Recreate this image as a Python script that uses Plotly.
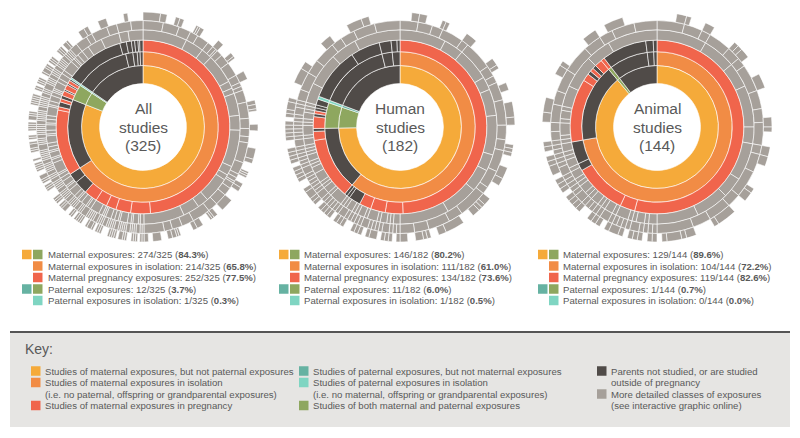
import math
import plotly.graph_objects as go

W, H = 800, 438

# ------------------------------------------------------------------ data
n_studies = [325, 182, 144]
center_lines = [["All", "studies", "(325)"],
                ["Human", "studies", "(182)"],
                ["Animal", "studies", "(144)"]]

# ---- All studies
all_l1_counts = [263, 11, 1, 50]
all_l1_class = ["mat", "both", "pat", "none"]
all_l2_counts = [214, 49, 11, 1, 38, 5, 3, 2, 2]
all_l2_class = ["iso", "none", "both", "patiso", "none", "none", "none", "none", "none"]
all_l3_counts = [158, 12, 9, 6, 7, 8, 8, 6, 40, 2, 3, 2, 2, 3, 1, 3, 1, 2, 1, 1, 36, 4, 3, 2, 2, 1, 2]
all_l3_class = ["preg", "preg", "preg", "preg", "preg", "preg", "none", "none",
                "preg", "preg", "none", "preg", "none",
                "preg", "none", "preg", "none", "preg", "none",
                "patiso",
                "none", "none", "none", "none", "none", "none", "none"]
# grey rings (negative = no segment)
all_r4 = [24, 10, 6, 16, 4, 3, 12, 8, 20, 5, 3, 14, 6, 9, 22,
          2, 1, 3, 1, 2, 4, 1, 2, 2, 3, 1, 1, 2, 5, 2, 1, 3, 2, 1, 2,
          4, 2, 1, 3, 2, 2, 1, 6, 2, 1, 3, 1, 2, 2, 4, 1, 2, 3, 1, 2,
          2, 5, 1, 2, 3, 2, 1, 1, 4, 2, 3, 2, 6, 2, 1, 2, 3, 4, 8, 10, 5, 8]
all_r5 = [10, 8, 6, 4, 6, 3, 2, 1, 3, 5, 7, 4, 2, 2, 6, 8, 5, 4, 3, 10, 6, 2, 2, 1, 3, 4, 6, 5, 9, 6, 5, 4, 10,
          1, 1, 2, 1, 1, 1, 2, 1, 1, 1, 1, 2, 1, 1, 1, 1, 2, 1, 1, 1,
          2, 1, 1, 1, 1, 3, 1, 1, 2, 1, 1, 1, 1, 2, 1, 1, 1, 1, 2, 1,
          1, 1, 1, 2, 1, 1, 2, 1, 1, 1, 1, 2, 1, 1, 1, 1, 1, 3, 1, 1,
          1, 2, 1, 1, 1, 1, 1, 2, 1, 1, 1, 1, 1, 2, 1, 1, 1, 1, 1, 2,
          1, 1, 3, 1, 1, 1, 2, 1, 1, 1, 2, 1, 1, 1, 1, 2, 1, 1, 1, 1,
          4, 6, 3, 8, 5, 7, 6]
all_r6 = [8, 3, -4, 2, 2, -6, 1, 1, 2, -8, 3, -5, 2, 1, -7, 4, -10, 2, 2, 1, -6, 3, -8, 5, 2, -4, 1, 1, 1, -3,
          2, 2, -5, 6, -3, 2, 1, 1, -4, 3, 2, -6, 1, 1, 2, 2, -3, 4, -2, 2,
          1, 1, -1, 1, 1, 1, -2, 1, 1, 2, -1, 1, 1, 1, 1, -3, 1, 1, 1, -1,
          1, 2, 1, -2, 1, 1, 1, 1, -1, 1, 1, -2, 2, 1, 1, -1, 1, 1, 1, -4,
          1, 1, 1, -1, 1, 1, 2, -2, 1, 1, 1, 1, -1, 1, -3, 1, 1, 2, 1, -1,
          1, 1, -2, 1, 1, 1, 1, -1, 2, 1, 1, -3, 1, 1, 1, 1, 1, -2, 1, 1,
          -1, 1, 1, 1, -2, 1, 2, 1, 1, -1, 1, 1, 1, -3, 1, 1, 1, -1, 2, 1,
          -6, 3, 2, -5, 4, -8, 2, -7]

# ---- Human studies
hum_l1_counts = [136, 10, 1, 35]
hum_l1_class = ["mat", "both", "pat", "none"]
hum_l2_counts = [111, 25, 10, 1, 28, 4, 3]
hum_l2_class = ["iso", "none", "both", "patiso", "none", "none", "none"]
hum_l3_counts = [90, 6, 5, 4, 4, 1, 1, 21, 3, 1, 4, 1, 1, 1, 1, 2, 1, 18, 10, 4, 2, 1]
hum_l3_class = ["preg", "preg", "preg", "preg", "none", "none", "none",
                "preg", "preg", "none",
                "preg", "none", "preg", "none", "none", "none",
                "patiso",
                "none", "none", "none", "none", "none"]
hum_r4 = [14, 6, 10, 4, 8, 12, 5, 7, 10, 15,
          2, 1, 1, 2, 1, 3, 1, 2, 1, 1, 2, 1, 1, 4, 1, 2, 1, 1, 3, 2,
          1, 1, 2, 1, 1, 1, 2, 1, 3, 1, 1, 2, 1, 1, 1, 6, 10, 8, 14]
hum_r5 = [5, 4, 3, 6, 2, 8, 3, 2, 5, 7, 4, 3, 6, 5, 2, 8, 4, 6, 4, 4,
          1, 1, 1, 2, 1, 1, 1, 1, 2, 1, 1, 1, 1, 1, 2, 1, 1, 1, 1, 1,
          1, 2, 1, 1, 1, 1, 1, 1, 2, 1, 1, 1, 1, 1, 1, 2, 1, 1, 1, 1,
          1, 1, 1, 2, 1, 1, 3, 5, 4, 6, 3, 4, 6, 7]
hum_r6 = [-3, 2, 2, -4, 1, 1, -5, 3, -6, 2, 1, -4, 2, -3, 4, 2, -5, 1, 1, 1, -3, 3, 2, -4, 2, 1, 1, 2, -3, 5,
          2, -2, 1, 1, 2, -2, 2,
          1, -1, 1, 1, 1, -1, 2, 1, -1, 1, 1, 1, -2, 1, 1, 1, -1, 1, 1, 1,
          1, -1, 1, 1, 2, 1, -2, 1, 1, 1, 1, -1, 1, 1, 1, 1, -2, 1, 1, 1,
          1, 1, -1, 1, 1, 2, 1, -1, -3, 4, 2, -6, 3, -5, 4, 2, -8]

# ---- Animal studies
ani_l1_counts = [128, 1, 15]
ani_l1_class = ["mat", "both", "none"]
ani_l2_counts = [104, 24, 1, 12, 2, 1]
ani_l2_class = ["iso", "none", "both", "none", "none", "none"]
ani_l3_counts = [78, 4, 14, 2, 6, 17, 2, 1, 1, 1, 2, 1, 12, 2, 1]
ani_l3_class = ["preg", "preg", "preg", "none", "none",
                "preg", "preg", "none", "preg", "none", "preg",
                "preg",
                "none", "none", "none"]
ani_r4 = [12, 8, 6, 10, 4, 9, 5, 8, 10,
          2, 1, 2, 1, 1, 3, 1, 2, 1, 1, 2, 1, 1, 2, 1, 1, 2, 1, 2, 1,
          1, 2, 1, 1, 3, 1, 2, 1, 5, 8, 6, 12]
ani_r5 = [6, 4, 2, 5, 3, 2, 6, 4, 3, 5, 2, 4, 6, 3, 5, 4, 8,
          1, 1, 1, 1, 2, 1, 1, 1, 1, 1, 2, 1, 1, 1, 1, 1, 2, 1, 1, 1,
          1, 1, 2, 1, 1, 1, 1, 1, 1, 2, 2, 4, 3, 5, 6, 4, 3, 5, 5]
ani_r6 = [-4, 2, 1, -3, 2, -5, 1, 1, 2, -4, 3, -6, 2, 1, -3, 2, 2, -5, 1, 2, -3, 4, 1, -4, 2, 1, 3, 1, -1,
          1, 1, -1, 1, 1, 1, -1, 1, 2, 1, -1, 1, 1, 1, -2, 1, 1, 1, 1, -1,
          1, 1, 1, -1, 2, 1, 1, -1, 1, 1,
          -4, 2, 3, -5, 2, 1, -6, 3, -2, 4, -7]

# ---- legends under charts
legend_labels = ["Maternal exposures", "Maternal exposures in isolation", "Maternal pregnancy exposures",
                 "Paternal exposures", "Paternal exposures in isolation"]
all_leg_counts = [274, 214, 252, 12, 1]
all_leg_pct = ["84.3", "65.8", "77.5", "3.7", "0.3"]
hum_leg_counts = [146, 111, 134, 11, 1]
hum_leg_pct = ["80.2", "61.0", "73.6", "6.0", "0.5"]
ani_leg_counts = [129, 104, 119, 1, 0]
ani_leg_pct = ["89.6", "72.2", "82.6", "0.7", "0.0"]

key_col1 = [("mat", "Studies of maternal exposures, but not paternal exposures"),
            ("iso", "Studies of maternal exposures in isolation"),
            (None, "(i.e. no paternal, offspring or grandparental exposures)"),
            ("preg", "Studies of maternal exposures in pregnancy")]
key_col2 = [("pat", "Studies of paternal exposures, but not maternal exposures"),
            ("patiso", "Studies of paternal exposures in isolation"),
            (None, "(i.e. no maternal, offspring or grandparental exposures)"),
            ("both", "Studies of both maternal and paternal exposures")]
key_col3 = [("none", "Parents not studied, or are studied"),
            (None, "outside of pregnancy"),
            ("grey", "More detailed classes of exposures"),
            (None, "(see interactive graphic online)")]

# ------------------------------------------------------------------ style
COL = {"mat": "#F5AA3A", "iso": "#F18C45", "preg": "#F0654C", "both": "#8EA75F",
       "pat": "#66B2A2", "patiso": "#7FD5C2", "none": "#504B48", "grey": "#A6A09A"}
TXT = "#595959"
FONT = "Liberation Sans, Arial, sans-serif"
SMALL = 9.6

# sqrt-scaled ring edges (hole edge, then 6 rings)
EDGES = [math.sqrt(k + 1) for k in range(7)]
centers_px = [143, 400, 657]
cy_px = 127
R_px = 115


def px(x):
    return x / W


def py(y):
    return 1 - y / H


def ring_trace(counts, classes, n, level, sp):
    theta, width, colors = [], [], []
    pos = 0
    for c, k in zip(counts, classes):
        size = abs(c)
        if c > 0:
            theta.append((pos + size / 2) * 360.0 / n)
            width.append(size * 360.0 / n)
            colors.append(COL[k])
        pos += size
    base = EDGES[level - 1]
    thick = EDGES[level] - EDGES[level - 1]
    return go.Barpolar(theta=theta, width=width, base=[base] * len(theta), r=[thick] * len(theta),
                       marker=dict(color=colors, line=dict(color="white", width=0.6)),
                       subplot=sp, hoverinfo="skip", showlegend=False)


charts = [
    (all_l1_counts, all_l1_class, all_l2_counts, all_l2_class, all_l3_counts, all_l3_class, all_r4, all_r5, all_r6),
    (hum_l1_counts, hum_l1_class, hum_l2_counts, hum_l2_class, hum_l3_counts, hum_l3_class, hum_r4, hum_r5, hum_r6),
    (ani_l1_counts, ani_l1_class, ani_l2_counts, ani_l2_class, ani_l3_counts, ani_l3_class, ani_r4, ani_r5, ani_r6),
]

fig = go.Figure()
layout_polars = {}
for i, ch in enumerate(charts):
    sp = "polar" if i == 0 else "polar%d" % (i + 1)
    n = n_studies[i]
    l1c, l1k, l2c, l2k, l3c, l3k, r4, r5, r6 = ch
    fig.add_trace(ring_trace(l1c, l1k, n, 1, sp))
    fig.add_trace(ring_trace(l2c, l2k, n, 2, sp))
    fig.add_trace(ring_trace(l3c, l3k, n, 3, sp))
    for lev, rr in zip([4, 5, 6], [r4, r5, r6]):
        fig.add_trace(ring_trace(rr, ["grey"] * len(rr), n, lev, sp))
    cx = centers_px[i]
    layout_polars[sp] = dict(
        domain=dict(x=[px(cx - R_px), px(cx + R_px)], y=[py(cy_px + R_px), py(cy_px - R_px)]),
        radialaxis=dict(visible=False, range=[0, EDGES[-1]]),
        angularaxis=dict(visible=False, rotation=90, direction="clockwise"),
        bgcolor="rgba(0,0,0,0)", barmode="overlay")

annotations = []
shapes = []

# center labels
for i, lines in enumerate(center_lines):
    for j, t in enumerate(lines):
        annotations.append(dict(x=px(centers_px[i]), y=py(cy_px - 18 + 18 * j), xref="paper", yref="paper",
                                text=t, showarrow=False, xanchor="center", yanchor="middle",
                                font=dict(family=FONT, size=15.5, color=TXT)))

# legends under charts
leg_sets = [(all_leg_counts, all_leg_pct), (hum_leg_counts, hum_leg_pct), (ani_leg_counts, ani_leg_pct)]
leg_x = [(22, 33, 46), (279, 290, 302), (538, 549, 561)]
row_y = [254.5, 266, 277.5, 289, 300.5]
sq_left = [["mat", "both"], [None, "iso"], [None, "preg"], ["pat", "both"], [None, "patiso"]]
SQ = 9.5
for i, (cnts, pcts) in enumerate(leg_sets):
    x1, x2, xt = leg_x[i]
    n = n_studies[i]
    for r in range(5):
        y = row_y[r]
        for xs, key in zip([x1, x2], sq_left[r]):
            if key is None:
                continue
            shapes.append(dict(type="rect", xref="paper", yref="paper",
                               x0=px(xs), x1=px(xs + SQ), y0=py(y + SQ / 2), y1=py(y - SQ / 2),
                               fillcolor=COL[key], line=dict(width=0)))
        annotations.append(dict(x=px(xt), y=py(y), xref="paper", yref="paper", showarrow=False,
                                xanchor="left", yanchor="middle",
                                text="%s: %d/%d (<b>%s%%</b>)" % (legend_labels[r], cnts[r], n, pcts[r]),
                                font=dict(family=FONT, size=SMALL, color=TXT)))

# key box
shapes.append(dict(type="rect", xref="paper", yref="paper", x0=px(10), x1=px(790), y0=py(427), y1=py(332),
                   fillcolor="#E6E5E3", line=dict(width=0), layer="below"))
shapes.append(dict(type="line", xref="paper", yref="paper", x0=px(10), x1=px(790), y0=py(332), y1=py(332),
                   line=dict(color="#555555", width=2)))
annotations.append(dict(x=px(23), y=py(349), xref="paper", yref="paper", text="Key:", showarrow=False,
                        xanchor="left", yanchor="middle", font=dict(family=FONT, size=14, color=TXT)))
key_rows_y = [371, 382.5, 394, 405.5]
for col, (sqx, tx) in zip([key_col1, key_col2, key_col3], [(31, 43), (299, 311), (597, 609)]):
    for (key, t), y in zip(col, key_rows_y):
        if key is not None:
            shapes.append(dict(type="rect", xref="paper", yref="paper",
                               x0=px(sqx), x1=px(sqx + SQ), y0=py(y + SQ / 2), y1=py(y - SQ / 2),
                               fillcolor=COL[key], line=dict(width=0)))
        annotations.append(dict(x=px(tx), y=py(y), xref="paper", yref="paper", text=t, showarrow=False,
                                xanchor="left", yanchor="middle", font=dict(family=FONT, size=SMALL, color=TXT)))

fig.update_layout(width=W, height=H, margin=dict(l=0, r=0, t=0, b=0),
                  paper_bgcolor="white", plot_bgcolor="white", showlegend=False,
                  annotations=annotations, shapes=shapes, **layout_polars)
fig.write_html("out.html", config={"displayModeBar": False},
               post_script="document.body.style.margin='0px';document.body.style.overflow='hidden';")
